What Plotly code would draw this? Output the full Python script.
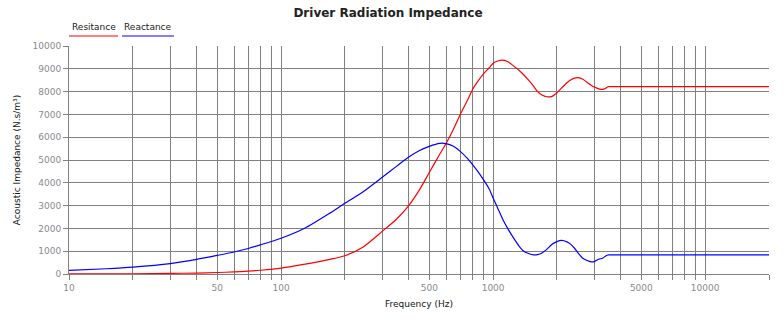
import plotly.graph_objects as go

# Frequency points (Hz)
freq = [10, 15, 20, 30, 40, 50, 60, 70, 80, 100, 130, 170, 200, 245, 300, 350,
        400, 450, 500, 560, 600, 650, 700, 760, 800, 850, 900, 960, 1000, 1050,
        1110, 1180, 1250, 1320, 1390, 1470, 1550, 1620, 1700, 1790, 1890, 2000,
        2100, 2230, 2310, 2420, 2520, 2650, 2760, 2910, 3000, 3150, 3280, 3400,
        3480, 3600, 5000, 10000, 20000]

# Radiation resistance (N.s/m^3)
resistance = [3, 6, 12, 25, 42, 65, 92, 127, 165, 255, 430, 640, 800, 1200, 1870, 2400,
              3000, 3700, 4450, 5250, 5720, 6350, 7000, 7650, 8095, 8470, 8780, 9050, 9240, 9340,
              9380, 9300, 9120, 8950, 8750, 8500, 8240, 8000, 7850, 7775, 7780, 7950,
              8150, 8390, 8500, 8590, 8610, 8540, 8420, 8270, 8200, 8120, 8095, 8150,
              8215, 8215, 8215, 8215, 8215]

# Radiation reactance (N.s/m^3)
reactance = [160, 230, 300, 455, 640, 815, 965, 1120, 1280, 1570, 2020, 2670, 3100, 3620, 4240, 4720,
             5130, 5420, 5600, 5730, 5720, 5600, 5380, 5050, 4800, 4480, 4140, 3720, 3330, 2900,
             2400, 1945, 1570, 1245, 1010, 900, 840, 850, 920, 1080, 1290, 1420,
             1475, 1410, 1320, 1130, 915, 690, 600, 530, 545, 650, 690, 790,
             835, 835, 835, 835, 835]

# Axis ticks
x_grid = [m * 10 ** e for e in range(1, 5) for m in range(1, 10)] + [20000]
x_labeled = {10: "10", 50: "50", 100: "100", 500: "500", 1000: "1000",
             5000: "5000", 10000: "10000"}
x_text = [x_labeled.get(v, "") for v in x_grid]
y_ticks = list(range(0, 10001, 1000))
y_text = [str(v) for v in y_ticks]

FONT = "DejaVu Sans"
GRID = "#808080"
TICK_FONT = dict(family=FONT, size=9, color="#8a8a8a")

fig = go.Figure()
fig.add_trace(go.Scatter(x=freq, y=resistance, mode="lines", name="Resitance",
                         line=dict(color="#ff0000", width=1.2, shape="spline", smoothing=0.7)))
fig.add_trace(go.Scatter(x=freq, y=reactance, mode="lines", name="Reactance",
                         line=dict(color="#0000ff", width=1.2, shape="spline", smoothing=0.7)))

L, R, T, B = 69, 15, 46, 50
W, H = 784, 324
pw, ph = W - L - R, H - T - B


def px(x):
    return (x - L) / pw


def py(y):
    return (H - B - y) / ph


# Legend entries drawn as text with a coloured underline
legend_items = [("Resitance", "#ff0000", 69, 118), ("Reactance", "#0000ff", 122, 174)]
shapes = []
annotations = []
for label, color, x0, x1 in legend_items:
    shapes.append(dict(type="line", xref="paper", yref="paper",
                       x0=px(x0), x1=px(x1), y0=py(36), y1=py(36),
                       line=dict(color=color, width=1.2)))
    annotations.append(dict(text=label, xref="paper", yref="paper",
                            x=px((x0 + x1) / 2), y=py(27), xanchor="center", yanchor="middle",
                            showarrow=False, font=dict(family=FONT, size=9, color="#222222")))

fig.update_layout(
    width=W, height=H,
    margin=dict(l=L, r=R, t=T, b=B),
    paper_bgcolor="white", plot_bgcolor="white",
    showlegend=False,
    title=dict(text="<b>Driver Radiation Impedance</b>", x=388 / W, xanchor="center",
               y=1 - 13 / H, yanchor="middle",
               font=dict(family=FONT, size=12, color="#222222")),
    xaxis=dict(type="log", range=[1, 4.30103],
               tickvals=x_grid, ticktext=x_text, tickfont=TICK_FONT,
               showgrid=True, gridcolor=GRID, gridwidth=1,
               showline=True, linecolor=GRID, linewidth=1,
               ticks="outside", ticklen=5, tickcolor=GRID,
               zeroline=False,
               title=dict(text="Frequency (Hz)", standoff=8,
                          font=dict(family=FONT, size=9, color="#111111"))),
    yaxis=dict(range=[0, 10000], tickvals=y_ticks, ticktext=y_text, tickfont=TICK_FONT,
               showgrid=True, gridcolor=GRID, gridwidth=1,
               showline=True, linecolor=GRID, linewidth=1,
               ticks="outside", ticklen=5, tickcolor=GRID,
               zeroline=False,
               title=dict(text="Acoustic Impedance (N.s/m³)", standoff=10,
                          font=dict(family=FONT, size=9, color="#111111"))),
    shapes=shapes,
    annotations=annotations,
)

fig.write_html("out.html")
